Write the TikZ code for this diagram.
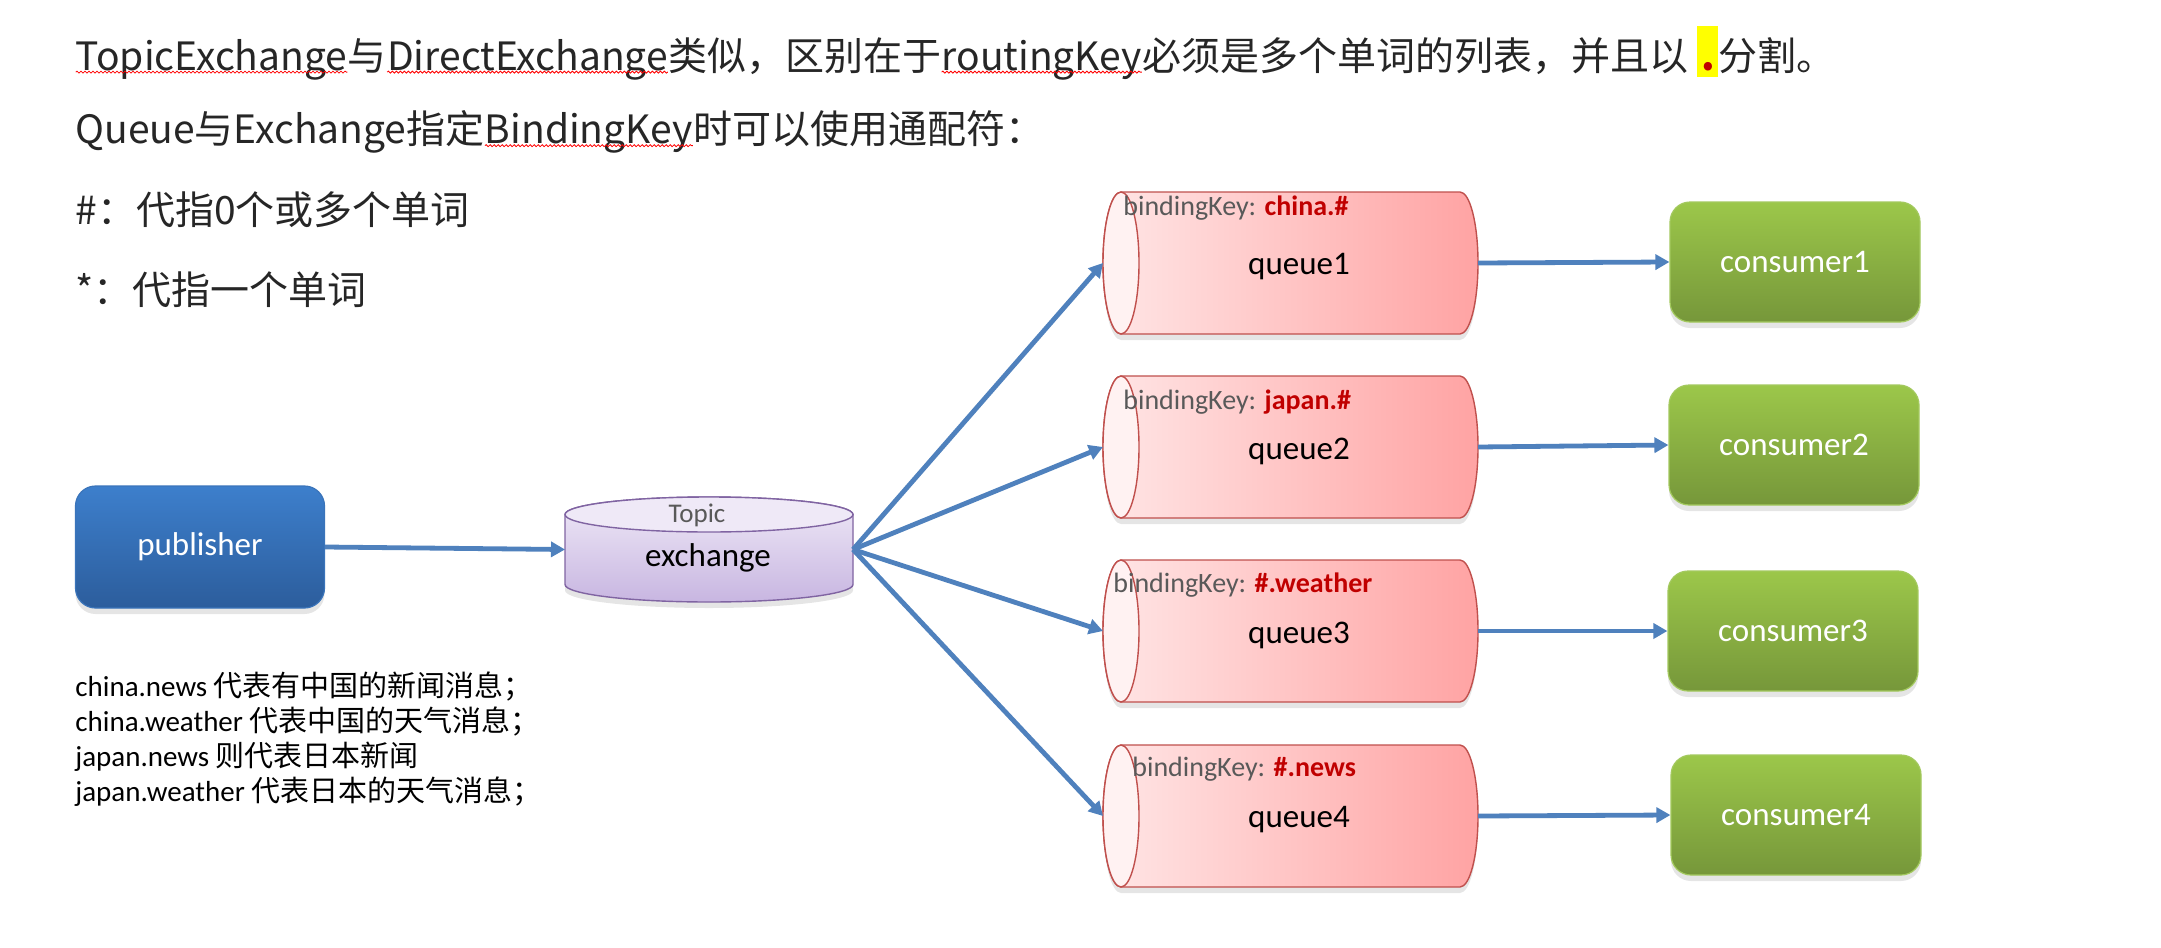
\documentclass[tikz,border=0pt]{standalone}
\usepackage{fontspec}
\setmainfont{Carlito}
\newfontfamily\cjk{Noto Sans CJK SC}
\usetikzlibrary{arrows.meta, positioning, calc, shadows, decorations.pathmorphing}

\definecolor{arrowblue}{HTML}{4F81BD}
\definecolor{pubtop}{HTML}{3D7FCC}
\definecolor{pubbot}{HTML}{2C5D9C}
\definecolor{publine}{HTML}{3A74BA}
\definecolor{contop}{HTML}{9CC74A}
\definecolor{conbot}{HTML}{76973A}
\definecolor{conline}{HTML}{A3C95E}
\definecolor{qleft}{HTML}{FFE6E6}
\definecolor{qright}{HTML}{FFA3A3}
\definecolor{qface}{HTML}{FFF2F2}
\definecolor{qline}{HTML}{C0504D}
\definecolor{extop}{HTML}{EFE9F7}
\definecolor{exbot}{HTML}{C8B6E1}
\definecolor{exline}{HTML}{8064A2}
\definecolor{keyred}{HTML}{C00000}
\definecolor{greytxt}{HTML}{595959}
\definecolor{hlyellow}{HTML}{FFFF00}
\definecolor{typored}{HTML}{FF0000}

% spell-check squiggle under a word
\newcommand{\typo}[1]{\tikz[baseline=(w.base)]{\node[inner sep=0pt, outer sep=0pt, anchor=base] (w) {#1};
  \draw[typored, line width=0.4pt, decorate, decoration={snake, amplitude=0.5pt, segment length=2pt}] ([yshift=-1pt]w.base west) -- ([yshift=-1pt]w.base east);}}
% highlighted separator dot
\newcommand{\hldot}{{\setlength{\fboxsep}{0pt}\colorbox{hlyellow}{\makebox[10.5pt][l]{\rule[-3.5pt]{0pt}{25.5pt}\hspace{2pt}\textcolor{keyred}{\textbf{.}}}}}}

\begin{document}
\begin{tikzpicture}[
    x=0.5pt, y=-0.5pt,
    headtxt/.style={anchor=west, inner sep=0pt, text=black!85, font=\cjk\fontsize{19.5pt}{23pt}\selectfont},
    notetxt/.style={anchor=west, inner sep=0pt, align=left, font=\fontsize{14.5pt}{17.5pt}\selectfont},
    pubbox/.style={rounded corners=10pt, top color=pubtop, bottom color=pubbot, draw=publine, line width=0.6pt,
      minimum width=124.5pt, minimum height=61pt, text=white, font=\fontsize{16.5pt}{20pt}\selectfont,
      drop shadow={opacity=0.2, shadow xshift=0pt, shadow yshift=-3pt}},
    conbox/.style={pubbox, top color=contop, bottom color=conbot, draw=conline, minimum width=125pt, minimum height=60pt},
    holder/.style={inner sep=0pt, outer sep=0pt},
    qbody/.style={left color=qleft, right color=qright, draw=qline, line width=0.7pt,
      drop shadow={opacity=0.2, shadow xshift=0pt, shadow yshift=-3pt}},
    qend/.style={fill=qface, draw=qline, line width=0.7pt},
    exbody/.style={top color=extop, bottom color=exbot, draw=exline, line width=0.7pt,
      drop shadow={opacity=0.2, shadow xshift=0pt, shadow yshift=-3pt}},
    exend/.style={fill=extop, draw=exline, line width=0.7pt},
    labeltxt/.style={inner sep=0pt, font=\fontsize{16.5pt}{20pt}\selectfont},
    keytxt/.style={anchor=west, inner sep=0pt, text=greytxt, font=\fontsize{14pt}{16pt}\selectfont},
    flow/.style={-{Triangle[length=7pt, width=7.5pt]}, line width=2.4pt, arrowblue},
]
  \fill[white] (0,0) rectangle (2161,947);
  \useasboundingbox (0,0) rectangle (2161,947);

  % explanation at the top
  \node[headtxt] (title) at (75,53) {\typo{TopicExchange}与\typo{DirectExchange}类似，区别在于\typo{routingKey}必须是多个单词的列表，并且以 \hldot 分割。};
  \node[headtxt] (wild) at (75,132) {Queue与Exchange指定\typo{BindingKey}时可以使用通配符：};
  \node[headtxt] (hash) at (75,210) {\#：代指0个或多个单词};
  \node[headtxt] (star) at (75,290) {*：代指一个单词};

  \node[notetxt] (notes) at (75,739.5) {china.news {\cjk 代表有中国的新闻消息；}\\
    china.weather {\cjk 代表中国的天气消息；}\\
    japan.news {\cjk 则代表日本新闻}\\
    japan.weather {\cjk 代表日本的天气消息；}};

  \node[pubbox] (pub) at (200,547) {publisher};

  % exchange drum
  \node[holder, minimum width=144pt, minimum height=52.5pt] (ex) at (709,549.5) {};
  \draw[exbody] ($(ex.north west)+(0,-8.75pt)$) -- ($(ex.south west)+(0,8.75pt)$)
    arc[start angle=180, end angle=360, x radius=72pt, y radius=8.75pt]
    -- ($(ex.north east)+(0,-8.75pt)$)
    arc[start angle=0, end angle=180, x radius=72pt, y radius=8.75pt] -- cycle;
  \draw[exend] ($(ex.north)+(0,-8.75pt)$) ellipse[x radius=72pt, y radius=8.75pt];
  \node[inner sep=0pt, text=greytxt, font=\fontsize{13.5pt}{16pt}\selectfont] (topic) at (697,515) {Topic};
  \node[labeltxt] (exlabel) at (708,558) {exchange};

  \draw[flow] (pub.east) -- (ex.west);

  % queues and consumers
  \foreach \i/\qy/\kx/\ky/\key/\cx/\cy in {1/263/1123/208/china.\#/1795/262,
      2/447/1123/402/japan.\#/1794/445, 3/631/1113/585/\#.weather/1793/631,
      4/816/1132/769/\#.news/1796/815}{
    \node[holder, minimum width=187.5pt, minimum height=71pt] (q\i) at (1290.5,\qy) {};
    \draw[qbody] ($(q\i.north west)+(9pt,0)$) -- ($(q\i.north east)+(-9pt,0)$)
      arc[start angle=90, end angle=-90, x radius=9pt, y radius=35.5pt]
      -- ($(q\i.south west)+(9pt,0)$)
      arc[start angle=270, end angle=90, x radius=9pt, y radius=35.5pt] -- cycle;
    \draw[qend] ($(q\i.west)+(9pt,0)$) ellipse[x radius=9pt, y radius=35.5pt];
    \node[keytxt] (k\i) at (\kx,\ky) {bindingKey: \textcolor{keyred}{\textbf{\key}}};
    \node[labeltxt] (ql\i) at ($(q\i.center)+(8.5,4)$) {queue\i};
    \node[conbox] (c\i) at (\cx,\cy) {consumer\i};
    \draw[flow] (ex.east) -- (q\i.west);
    \draw[flow] (q\i.east) -- (c\i.west);
  }
\end{tikzpicture}
\end{document}
